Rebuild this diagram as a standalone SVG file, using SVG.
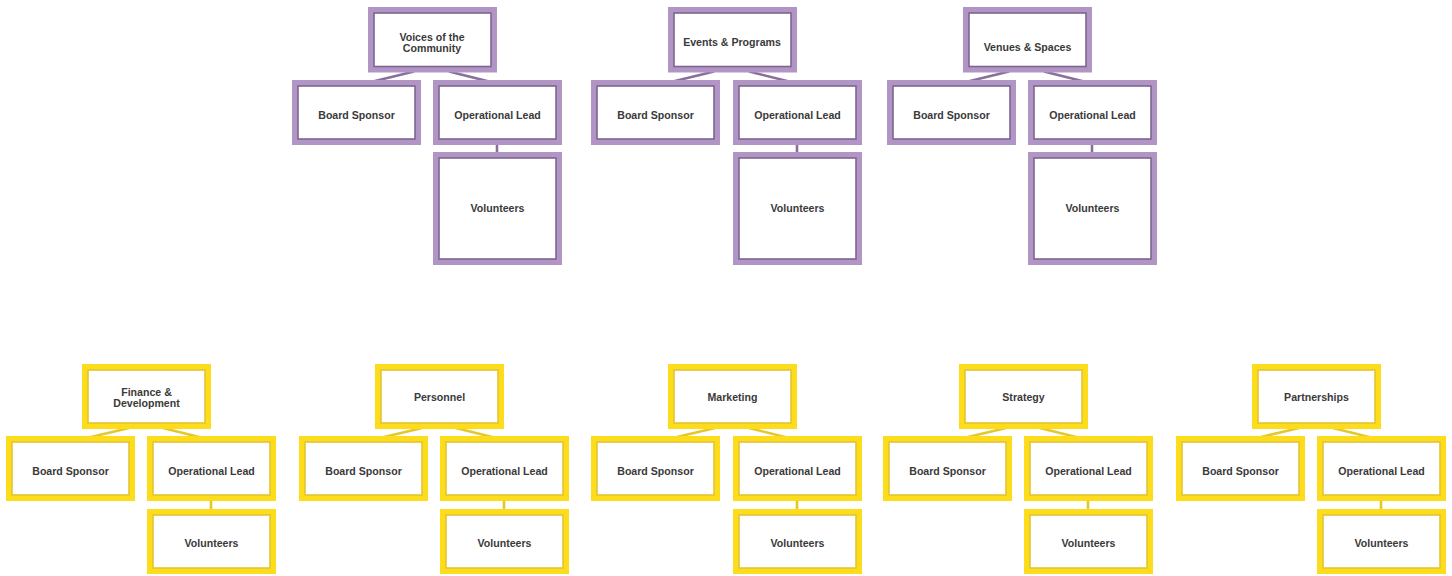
<svg xmlns="http://www.w3.org/2000/svg" width="1452" height="576" viewBox="0 0 1452 576">
<style>
.p .o{fill:#b195c5}
.p .i{fill:#fff;stroke:#7e6590;stroke-width:1.6}
.y .o{fill:#fddc1b}
.y .i{fill:#fff;stroke:#e3c532;stroke-width:1.6}
text{font-family:"Liberation Sans",Arial,sans-serif;font-weight:bold;font-size:10.6px;fill:#3a3a3a;text-anchor:middle}
.cp line{stroke:#8a6e9c;stroke-width:2.6}
.cy line{stroke:#e5c72c;stroke-width:2.6}
</style>
<g id="connectors">
<g class="cp">
<line x1="414" y1="71.5" x2="373" y2="81.5"/><line x1="449" y1="71.5" x2="489" y2="81.5"/><line x1="497" y1="144" x2="497" y2="153"/>
<line x1="714" y1="71.5" x2="673" y2="81.5"/><line x1="749" y1="71.5" x2="789" y2="81.5"/><line x1="797" y1="144" x2="797" y2="153"/>
<line x1="1009" y1="71.5" x2="968" y2="81.5"/><line x1="1044" y1="71.5" x2="1084" y2="81.5"/><line x1="1092" y1="144" x2="1092" y2="153"/>
</g>
<g class="cy">
<line x1="129" y1="428" x2="89" y2="437.5"/><line x1="163" y1="428" x2="201" y2="437.5"/><line x1="211" y1="500" x2="211" y2="510"/>
<line x1="422" y1="428" x2="382" y2="437.5"/><line x1="456" y1="428" x2="494" y2="437.5"/><line x1="504" y1="500" x2="504" y2="510"/>
<line x1="715" y1="428" x2="675" y2="437.5"/><line x1="749" y1="428" x2="787" y2="437.5"/><line x1="797" y1="500" x2="797" y2="510"/>
<line x1="1006" y1="428" x2="966" y2="437.5"/><line x1="1040" y1="428" x2="1078" y2="437.5"/><line x1="1088" y1="500" x2="1088" y2="510"/>
<line x1="1299" y1="428" x2="1259" y2="437.5"/><line x1="1333" y1="428" x2="1371" y2="437.5"/><line x1="1381" y1="500" x2="1381" y2="510"/>
</g>
</g>
<g class="p">
<g id="voices" transform="translate(368,7)"><rect class="o" width="129" height="65.5"/><rect class="i" x="6" y="6" width="117" height="53.5"/><text x="64" y="33.5">Voices of the</text><text x="64" y="44.5">Community</text></g>
<g id="voices-board" transform="translate(292,80)"><rect class="o" width="129" height="65"/><rect class="i" x="6" y="6" width="117" height="53"/><text x="64.5" y="38.8">Board Sponsor</text></g>
<g id="voices-lead" transform="translate(433,80)"><rect class="o" width="129" height="65"/><rect class="i" x="6" y="6" width="117" height="53"/><text x="64.5" y="38.8">Operational Lead</text></g>
<g id="voices-volunteers" transform="translate(433,152)"><rect class="o" width="129" height="113"/><rect class="i" x="6" y="6" width="117" height="101"/><text x="64.5" y="59.5">Volunteers</text></g>

<g id="events" transform="translate(668,7)"><rect class="o" width="129" height="65.5"/><rect class="i" x="6" y="6" width="117" height="53.5"/><text x="64" y="38.8">Events &amp; Programs</text></g>
<g id="events-board" transform="translate(591,80)"><rect class="o" width="129" height="65"/><rect class="i" x="6" y="6" width="117" height="53"/><text x="64.5" y="38.8">Board Sponsor</text></g>
<g id="events-lead" transform="translate(733,80)"><rect class="o" width="129" height="65"/><rect class="i" x="6" y="6" width="117" height="53"/><text x="64.5" y="38.8">Operational Lead</text></g>
<g id="events-volunteers" transform="translate(733,152)"><rect class="o" width="129" height="113"/><rect class="i" x="6" y="6" width="117" height="101"/><text x="64.5" y="59.5">Volunteers</text></g>

<g id="venues" transform="translate(963,7)"><rect class="o" width="129" height="65.5"/><rect class="i" x="6" y="6" width="117" height="53.5"/><text x="64.5" y="44">Venues &amp; Spaces</text></g>
<g id="venues-board" transform="translate(887,80)"><rect class="o" width="129" height="65"/><rect class="i" x="6" y="6" width="117" height="53"/><text x="64.5" y="38.8">Board Sponsor</text></g>
<g id="venues-lead" transform="translate(1028,80)"><rect class="o" width="129" height="65"/><rect class="i" x="6" y="6" width="117" height="53"/><text x="64.5" y="38.8">Operational Lead</text></g>
<g id="venues-volunteers" transform="translate(1028,152)"><rect class="o" width="129" height="113"/><rect class="i" x="6" y="6" width="117" height="101"/><text x="64.5" y="59.5">Volunteers</text></g>
</g>
<g class="y">
<g id="finance" transform="translate(82,364)"><rect class="o" width="129" height="65"/><rect class="i" x="6" y="6" width="117" height="53"/><text x="64.5" y="31.8">Finance &amp;</text><text x="64.5" y="43">Development</text></g>
<g id="finance-board" transform="translate(6,436)"><rect class="o" width="129" height="65"/><rect class="i" x="6" y="6" width="117" height="53"/><text x="64.5" y="38.5">Board Sponsor</text></g>
<g id="finance-lead" transform="translate(147,436)"><rect class="o" width="129" height="65"/><rect class="i" x="6" y="6" width="117" height="53"/><text x="64.5" y="38.5">Operational Lead</text></g>
<g id="finance-volunteers" transform="translate(147,509)"><rect class="o" width="129" height="65"/><rect class="i" x="6" y="6" width="117" height="53"/><text x="64.5" y="37.5">Volunteers</text></g>

<g id="personnel" transform="translate(375,364)"><rect class="o" width="129" height="65"/><rect class="i" x="6" y="6" width="117" height="53"/><text x="64.5" y="37">Personnel</text></g>
<g id="personnel-board" transform="translate(299,436)"><rect class="o" width="129" height="65"/><rect class="i" x="6" y="6" width="117" height="53"/><text x="64.5" y="38.5">Board Sponsor</text></g>
<g id="personnel-lead" transform="translate(440,436)"><rect class="o" width="129" height="65"/><rect class="i" x="6" y="6" width="117" height="53"/><text x="64.5" y="38.5">Operational Lead</text></g>
<g id="personnel-volunteers" transform="translate(440,509)"><rect class="o" width="129" height="65"/><rect class="i" x="6" y="6" width="117" height="53"/><text x="64.5" y="37.5">Volunteers</text></g>

<g id="marketing" transform="translate(668,364)"><rect class="o" width="129" height="65"/><rect class="i" x="6" y="6" width="117" height="53"/><text x="64.5" y="37">Marketing</text></g>
<g id="marketing-board" transform="translate(591,436)"><rect class="o" width="129" height="65"/><rect class="i" x="6" y="6" width="117" height="53"/><text x="64.5" y="38.5">Board Sponsor</text></g>
<g id="marketing-lead" transform="translate(733,436)"><rect class="o" width="129" height="65"/><rect class="i" x="6" y="6" width="117" height="53"/><text x="64.5" y="38.5">Operational Lead</text></g>
<g id="marketing-volunteers" transform="translate(733,509)"><rect class="o" width="129" height="65"/><rect class="i" x="6" y="6" width="117" height="53"/><text x="64.5" y="37.5">Volunteers</text></g>

<g id="strategy" transform="translate(959,364)"><rect class="o" width="129" height="65"/><rect class="i" x="6" y="6" width="117" height="53"/><text x="64.5" y="37">Strategy</text></g>
<g id="strategy-board" transform="translate(883,436)"><rect class="o" width="129" height="65"/><rect class="i" x="6" y="6" width="117" height="53"/><text x="64.5" y="38.5">Board Sponsor</text></g>
<g id="strategy-lead" transform="translate(1024,436)"><rect class="o" width="129" height="65"/><rect class="i" x="6" y="6" width="117" height="53"/><text x="64.5" y="38.5">Operational Lead</text></g>
<g id="strategy-volunteers" transform="translate(1024,509)"><rect class="o" width="129" height="65"/><rect class="i" x="6" y="6" width="117" height="53"/><text x="64.5" y="37.5">Volunteers</text></g>

<g id="partnerships" transform="translate(1252,364)"><rect class="o" width="129" height="65"/><rect class="i" x="6" y="6" width="117" height="53"/><text x="64.5" y="37">Partnerships</text></g>
<g id="partnerships-board" transform="translate(1176,436)"><rect class="o" width="129" height="65"/><rect class="i" x="6" y="6" width="117" height="53"/><text x="64.5" y="38.5">Board Sponsor</text></g>
<g id="partnerships-lead" transform="translate(1317,436)"><rect class="o" width="129" height="65"/><rect class="i" x="6" y="6" width="117" height="53"/><text x="64.5" y="38.5">Operational Lead</text></g>
<g id="partnerships-volunteers" transform="translate(1317,509)"><rect class="o" width="129" height="65"/><rect class="i" x="6" y="6" width="117" height="53"/><text x="64.5" y="37.5">Volunteers</text></g>
</g>
</svg>
